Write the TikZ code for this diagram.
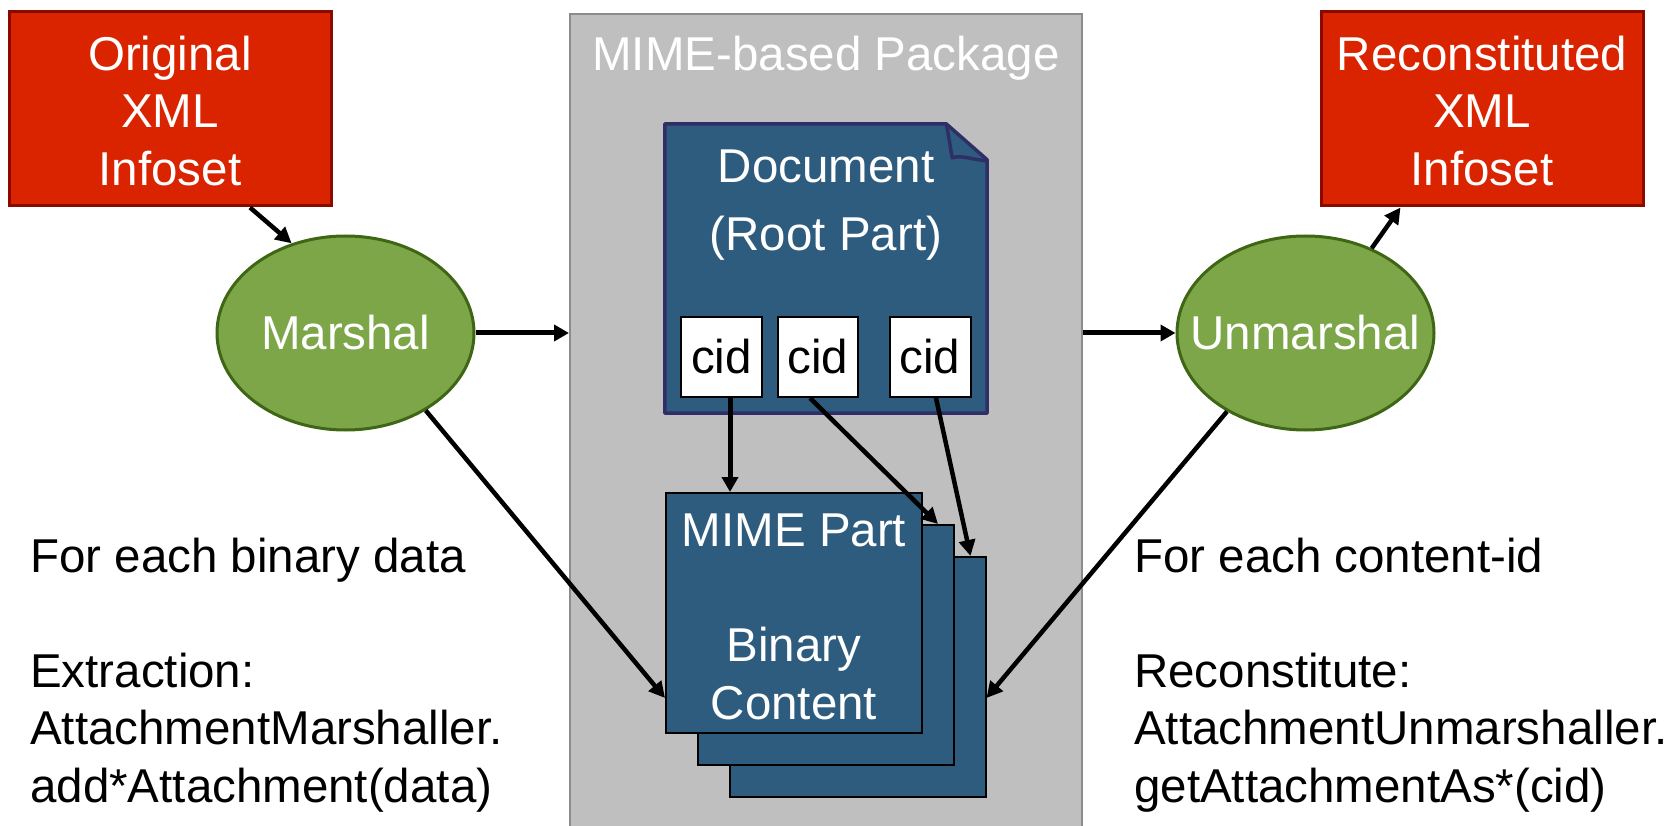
\documentclass[tikz,border=0pt]{standalone}
\usepackage{fontspec}
\setmainfont{Liberation Sans}
\usetikzlibrary{arrows.meta,shapes.geometric,calc}

\definecolor{boxred}{HTML}{DA2400}
\definecolor{boxredline}{HTML}{8A0A00}
\definecolor{procgreen}{HTML}{7CA648}
\definecolor{procgreenline}{HTML}{3F6614}
\definecolor{partblue}{HTML}{2E5C7E}
\definecolor{docline}{HTML}{302E66}
\definecolor{pkggray}{HTML}{BFBFBF}
\definecolor{pkgline}{HTML}{8C8C8C}

\begin{document}
\begin{tikzpicture}[x=1pt,y=-1pt,
  txt/.style={font=\fontsize{47.5}{57.5}\selectfont},
  infoset/.style={rectangle, draw=boxredline, fill=boxred, line width=3pt,
    minimum width=322pt, minimum height=194pt, inner sep=0pt,
    label={[txt, text=white, align=center, inner sep=0pt, yshift=-2pt]center:#1}},
  proc/.style={ellipse, draw=procgreenline, fill=procgreen, line width=3pt,
    minimum width=257pt, minimum height=194pt, inner sep=0pt,
    label={[txt, text=white, inner sep=0pt]center:#1}},
  cidbox/.style={rectangle, draw=black, fill=white, line width=2pt,
    minimum width=80pt, minimum height=80pt, inner sep=0pt, txt},
  part/.style={rectangle, draw=black, fill=partblue, line width=2pt,
    minimum width=256pt, minimum height=240pt, inner sep=0pt},
  link/.style={-{Triangle[length=15pt,width=16pt]}, line width=5pt},
  slant/.style={-{Triangle[length=16pt,width=16pt]}, line width=4.5pt},
  note/.style={txt, align=left, anchor=north west, inner sep=0pt}
]
\useasboundingbox (0,0) rectangle (1674,826);

% package container
\node[rectangle, draw=pkgline, fill=pkggray, line width=2pt,
      minimum width=512pt, minimum height=820pt, inner sep=0pt] (pkg) at (826,424) {};
\node[txt, text=white, anchor=base, inner sep=0pt] (pkgtitle) at (826,71) {MIME-based Package};

% root part with folded corner
\node[minimum width=322pt, minimum height=289pt, inner sep=0pt] (doc) at (826,268.5) {};
\draw[docline, fill=partblue, line width=3.5pt, line join=round]
  (doc.north west) -- ($(doc.north east)+(-41,0)$) -- ($(doc.north east)+(0,36)$)
  -- (doc.south east) -- (doc.south west) -- cycle;
\draw[docline, line width=3.5pt, line join=round]
  ($(doc.north east)+(-41,0)$) .. controls +(4,20) and +(-2,-10) .. ($(doc.north east)+(-35,34)$)
  .. controls +(10,-3) and +(-15,-1) .. ($(doc.north east)+(0,37)$);
\node[txt, text=white, align=center, font=\fontsize{47.5}{68}\selectfont, inner sep=0pt]
  (doctitle) at (826,205) {Document\\(Root Part)};

\node[cidbox, minimum width=81pt] (cid1) at (721.5,357) {cid};
\node[cidbox] (cid2) at (818,357) {cid};
\node[cidbox, minimum width=81pt] (cid3) at (930,357) {cid};

% stacked MIME parts
\node[part] (back) at (857.5,677) {};
\node[part] (middle) at (826,645) {};
\node[part, label={[txt, text=white, align=center, inner sep=0pt, yshift=-4pt]center:{MIME Part\\[57.5pt]Binary\\Content}}]
  (front) at (794,613) {};

% infosets and processors
\node[infoset={Original\\XML\\Infoset}] (orig) at (170,109) {};
\node[infoset={Reconstituted\\XML\\Infoset}] (recon) at (1482,109) {};
\node[proc=Marshal] (marshal) at (345.5,333) {};
\node[proc=Unmarshal] (unmarshal) at (1305.5,333) {};

% notes
\node[note] (extractnote) at (30,537.5)
  {For each binary data\\[57.5pt]Extraction:\\AttachmentMarshaller.\\add*Attachment(data)};
\node[note] (reconnote) at (1134,537.5)
  {For each content-id\\[57.5pt]Reconstitute:\\AttachmentUnmarshaller.\\getAttachmentAs*(cid)};

% connectors
\draw[slant] ($(orig.south)+(80,0)$) -- (marshal.121);
\draw[link] (marshal.east) -- (marshal.east -| pkg.west);
\draw[link] (pkg.east |- unmarshal.west) -- (unmarshal.west);
\draw[slant] (unmarshal.52) -- ($(recon.south)+(-81.5,0)$);

\coordinate (c1out) at ($(cid1.south)+(8.5,0)$);
\draw[link] (c1out) -- (c1out |- front.north);
\draw[slant] ($(cid2.south)+(-8,0)$) -- ($(middle.north east)+(-17,0)$);
\draw[slant] ($(cid3.south)+(6,0)$) -- ($(back.north east)+(-16,0)$);

\draw[slant] (marshal.-44.5) -- ($(front.west)+(0,85)$);
\draw[slant] (unmarshal.225) -- ($(back.east)+(0,21)$);
\end{tikzpicture}
\end{document}
